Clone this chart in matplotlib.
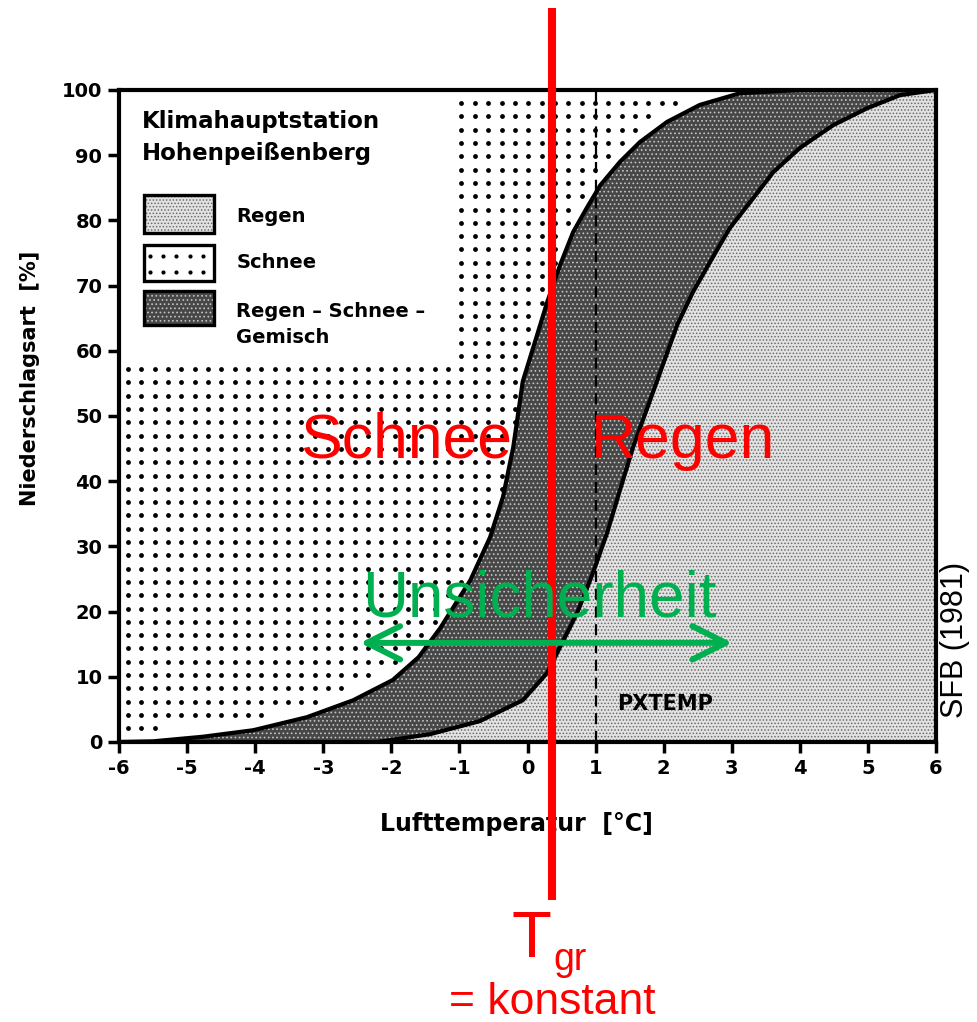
import numpy as np
import matplotlib
matplotlib.use("Agg")
import matplotlib.pyplot as plt
from matplotlib.patches import Rectangle

plt.rcParams['hatch.linewidth'] = 0.7

# ---------------- data ----------------
upper_x = [-6.0, -5.5, -4.77, -4.03, -3.24, -2.56, -1.98, -1.6, -1.28, -0.84,
           -0.55, -0.36, -0.21, -0.07, 0.14, 0.29, 0.48, 0.67, 0.87, 1.07,
           1.36, 1.65, 2.05, 2.53, 3.12, 4.0, 6.0]
upper_y = [0, 0.1, 0.8, 1.8, 3.8, 6.4, 9.5, 13.0, 17.5, 24.8,
           31.4, 37.6, 45.2, 55.3, 62.4, 67.5, 73.2, 78.2, 81.9, 85.4,
           89.0, 92.0, 95.1, 97.7, 99.5, 100, 100]
lower_x = [-2.2, -1.43, -0.70, -0.07, 0.29, 0.48, 0.73, 0.96, 1.17, 1.36,
           1.55, 1.90, 2.20, 2.43, 2.68, 2.97, 3.27, 3.61, 4.0, 4.49,
           4.99, 5.47, 6.0]
lower_y = [0, 1.2, 3.2, 6.4, 10.6, 14.6, 19.8, 25.9, 32.1, 38.7,
           45.2, 55.3, 64.0, 69.0, 73.6, 78.8, 82.8, 87.4, 91.1, 94.6,
           97.2, 99.2, 100]

x_ticks = [-6, -5, -4, -3, -2, -1, 0, 1, 2, 3, 4, 5, 6]
x_ticklabels = ['-6', '-5', '-4', '-3', '-2', '-1', '0', '1', '2', '3', '4', '5', '6']
y_ticks = [0, 10, 20, 30, 40, 50, 60, 70, 80, 90, 100]
y_ticklabels = ['0', '10', '20', '30', '40', '50', '60', '70', '80', '90', '100']

pxtemp = 1.0
t_gr = 0.36
uncert_left, uncert_right = -2.5, 3.05

station_lines = ['Klimahauptstation', 'Hohenpeißenberg']
legend_labels = ['Regen', 'Schnee', 'Regen – Schnee –', 'Gemisch']

RAIN_FC, RAIN_HC = '#e2e2e2', '#6a6a6a'
MIX_FC, MIX_HC = '#474747', '#c4c4c4'
RED = '#ff0000'
GREEN = '#00b050'

# ---------------- figure ----------------
fig = plt.figure(figsize=(9.78, 10.22), dpi=100)
ax = fig.add_axes([0.1217, 0.274, 0.8354, 0.638])
ax.set_xlim(-6, 6)
ax.set_ylim(0, 100)

# Rain area (below lower curve)
ax.fill(lower_x + [6.0, lower_x[0]], lower_y + [0, 0],
        facecolor=RAIN_FC, edgecolor=RAIN_HC, hatch='.....', linewidth=0, zorder=1)
# Mixed area (between curves)
ax.fill(upper_x + lower_x[::-1], upper_y + lower_y[::-1],
        facecolor=MIX_FC, edgecolor=MIX_HC, hatch='....', linewidth=0, zorder=1)

# Snow area: regular dot grid above the upper curve (legend corner left blank)
gx = np.arange(-5.87, 6.0, 0.196)
gy = np.arange(2.1, 100, 2.04)
GX, GY = np.meshgrid(gx, gy)
ub = np.interp(GX, upper_x, upper_y)
mask = (GY > ub + 1.8) & ~((GX < -1.15) & (GY > 58.0)) & (GY < 99.6)
ax.scatter(GX[mask], GY[mask], s=12, c='black', marker='o', linewidths=0, zorder=2)

# Curves
ax.plot(upper_x, upper_y, color='black', lw=3.0, zorder=3,
        solid_joinstyle='round', solid_capstyle='round')
ax.plot(lower_x, lower_y, color='black', lw=3.0, zorder=3,
        solid_joinstyle='round', solid_capstyle='round')

# PXTEMP dashed line
ax.axvline(pxtemp, color='black', ls=(0, (5, 3)), lw=1.6, zorder=3)
ax.text(1.31, 4.9, 'PXTEMP', fontsize=15, fontweight='bold', ha='left',
        va='baseline', zorder=4)

# Axes styling
for s in ax.spines.values():
    s.set_linewidth(3)
    s.set_zorder(5)
ax.set_xticks(x_ticks)
ax.set_xticklabels(x_ticklabels)
ax.set_yticks(y_ticks)
ax.set_yticklabels(y_ticklabels)
ax.tick_params(direction='out', length=8, width=2.5, labelsize=14, pad=4)
for lab in ax.get_xticklabels() + ax.get_yticklabels():
    lab.set_fontweight('bold')
ax.set_xlabel('Lufttemperatur  [°C]', fontsize=17, fontweight='bold')
ax.xaxis.set_label_coords(0.486, -0.108)
ax.set_ylabel('Niederschlagsart  [%]', fontsize=15, fontweight='bold')
ax.yaxis.set_label_coords(-0.097, 0.557)

# Legend block
ax.text(-5.66, 94.2, station_lines[0], fontsize=16.5, fontweight='bold', va='baseline')
ax.text(-5.66, 89.3, station_lines[1], fontsize=16.5, fontweight='bold', va='baseline')
patch_x0, patch_w = -5.63, 1.03
patches = [(78.1, 5.8, 'rain'), (70.7, 5.5, 'snow'), (64.0, 5.2, 'mix')]
for y0, h, kind in patches:
    if kind == 'rain':
        ax.add_patch(Rectangle((patch_x0, y0), patch_w, h, facecolor=RAIN_FC,
                               edgecolor=RAIN_HC, hatch='.....', lw=0, zorder=3))
    elif kind == 'mix':
        ax.add_patch(Rectangle((patch_x0, y0), patch_w, h, facecolor=MIX_FC,
                               edgecolor=MIX_HC, hatch='....', lw=0, zorder=3))
    else:
        px = np.arange(patch_x0 + 0.08, patch_x0 + patch_w, 0.196)
        py = [y0 + 1.4, y0 + 3.9]
        PX, PY = np.meshgrid(px, py)
        ax.scatter(PX.ravel(), PY.ravel(), s=9, c='black', marker='o',
                   linewidths=0, zorder=3)
    ax.add_patch(Rectangle((patch_x0, y0), patch_w, h, facecolor='none',
                           edgecolor='black', lw=2.4, zorder=4))
label_y = [79.8, 72.7, 65.2, 61.2]
for lbl, yy in zip(legend_labels, label_y):
    ax.text(-4.28, yy, lbl, fontsize=14, fontweight='bold', va='baseline')

# ---------------- red / green annotations ----------------
ax.plot([t_gr, t_gr], [-24.2, 112.6], color=RED, lw=5.8, clip_on=False,
        solid_capstyle='butt', zorder=6)
ax.text(-3.34, 43.6, 'Schnee', fontsize=45, color=RED, family='Liberation Sans',
        va='baseline', ha='left', zorder=7)
ax.text(0.93, 43.6, 'Regen', fontsize=45, color=RED, family='Liberation Sans',
        va='baseline', ha='left', zorder=7)
ax.text(-2.43, 19.2, 'Unsicherheit', fontsize=46, color=GREEN,
        family='Liberation Sans', va='baseline', ha='left', zorder=7)
ax.annotate('', xy=(uncert_left, 15.2), xytext=(uncert_right, 15.2),
            arrowprops=dict(arrowstyle='<->,head_length=1.2,head_width=0.6',
                            color=GREEN, lw=4.3, mutation_scale=20),
            zorder=7)

ax.text(-0.23, -33.0, 'T', fontsize=47, color=RED, family='Liberation Sans',
        va='baseline', ha='left', clip_on=False)
ax.text(0.375, -34.9, 'gr', fontsize=27, color=RED, family='Liberation Sans',
        va='baseline', ha='left', clip_on=False)
ax.text(t_gr, -41.7, '= konstant', fontsize=32, color=RED, family='Liberation Sans',
        va='baseline', ha='center', clip_on=False)

fig.text(955 / 978, 1 - 640 / 1022, 'SFB (1981)', rotation=90, fontsize=22,
         family='Liberation Sans', ha='center', va='center')

fig.savefig('out.png', dpi=100, facecolor='white')
